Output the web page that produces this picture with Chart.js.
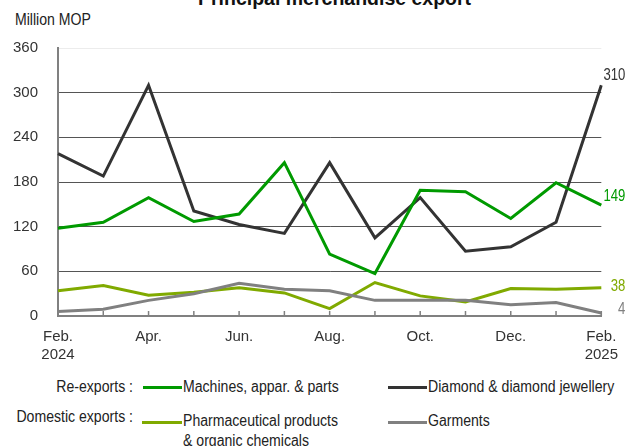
<!DOCTYPE html>
<html>
<head>
<meta charset="utf-8">
<script src="https://cdn.jsdelivr.net/npm/chart.js@4"></script>
<style>
  body { margin: 0; width: 630px; height: 446px; background: #fff; overflow: hidden; position: relative;
         font-family: "Liberation Sans", Arial, sans-serif; color: #222; }
  #title { position: absolute; top: -12px; left: 198px; white-space: nowrap;
           font: bold 19.5px "Liberation Sans", Arial, sans-serif; line-height: 20px; color: #111; }
  #unit { position: absolute; top: 11px; left: 15px; font-size: 16px; line-height: 18px; white-space: nowrap;
          transform: scaleX(0.88); transform-origin: left; }
  #wrap { position: absolute; top: 0; left: 0; width: 630px; height: 370px; }
  .leg { position: absolute; font-size: 16px; line-height: 20px; white-space: nowrap;
         transform: scaleX(0.88); transform-origin: left; }
  .grp { text-align: right; width: 133px; left: 0; transform-origin: right; }
  .sw { position: absolute; height: 3px; }
</style>
</head>
<body>
<div id="title">Principal merchandise export</div>
<div id="unit">Million MOP</div>
<div id="wrap"><canvas id="chart"></canvas></div>

<div class="leg grp" style="top:377px">Re-exports :</div>
<div class="sw" style="left:143px;width:39px;top:386px;background:#009a00"></div>
<div class="leg" style="left:183px;top:377px">Machines, appar. &amp; parts</div>
<div class="sw" style="left:388px;width:39px;top:386px;background:#333333"></div>
<div class="leg" style="left:428px;top:377px">Diamond &amp; diamond jewellery</div>

<div class="leg grp" style="top:407px">Domestic exports :</div>
<div class="sw" style="left:142px;width:40px;top:421px;background:#80aa00"></div>
<div class="leg" style="left:183px;top:411px">Pharmaceutical products<br>&amp; organic chemicals</div>
<div class="sw" style="left:388px;width:39px;top:421px;background:#808080"></div>
<div class="leg" style="left:428px;top:411px">Garments</div>

<script>
const months = ['Feb.', 'Mar.', 'Apr.', 'May', 'Jun.', 'Jul.', 'Aug.', 'Sep.', 'Oct.', 'Nov.', 'Dec.', 'Jan.', 'Feb.'];
const years = { 0: '2024', 12: '2025' };

const machines = [118, 126, 159, 127, 137, 206, 83, 57, 169, 167, 131, 179, 149];
const diamond = [218, 188, 310, 141, 123, 111, 206, 105, 159, 87, 93, 126, 310];
const pharma = [34, 41, 28, 32, 38, 31, 10, 45, 27, 19, 37, 36, 38];
const garments = [6, 9, 21, 30, 44, 36, 34, 21, 21, 21, 15, 18, 4];

const FONT = '"Liberation Sans", Arial, sans-serif';

// tick marks pointing up into the plot, and the value labels at the last point
const extras = {
  id: 'extras',
  afterDatasetsDraw(chart) {
    const { ctx, chartArea, scales: { x, y } } = chart;
    ctx.save();
    ctx.strokeStyle = '#808080';
    ctx.lineWidth = 1.5;
    for (let i = 1; i < months.length; i++) {
      const px = x.getPixelForTick(i);
      ctx.beginPath();
      ctx.moveTo(px, y.bottom);
      ctx.lineTo(px, y.bottom - 5);
      ctx.stroke();
    }
    ctx.font = '16px ' + FONT;
    ctx.textAlign = 'right';
    ctx.textBaseline = 'middle';
    chart.data.datasets.forEach((ds, i) => {
      const meta = chart.getDatasetMeta(i);
      const pt = meta.data[meta.data.length - 1];
      ctx.save();
      ctx.translate(chartArea.right + 24, pt.y + ds.endDy);
      ctx.scale(0.82, 1);
      ctx.fillStyle = ds.endColor;
      ctx.fillText(String(ds.data[ds.data.length - 1]), 0, 0);
      ctx.restore();
    });
    ctx.restore();
  }
};

function line(label, data, color, endColor, endDy) {
  return { label, data, borderColor: color, backgroundColor: color, borderWidth: 3,
           pointRadius: 0, tension: 0, endColor, endDy };
}

new Chart(document.getElementById('chart'), {
  type: 'line',
  data: {
    labels: months,
    datasets: [
      line('Garments', garments, '#808080', '#808080', -3),
      line('Pharmaceutical products & organic chemicals', pharma, '#80aa00', '#80aa00', -1),
      line('Machines, appar. & parts', machines, '#009a00', '#009a00', -8),
      line('Diamond & diamond jewellery', diamond, '#333333', '#333333', -10),
    ]
  },
  options: {
    responsive: true, maintainAspectRatio: false, animation: false,
    layout: { padding: { left: 8, right: 28, top: 48, bottom: 0 } },
    plugins: { legend: { display: false }, tooltip: { enabled: false } },
    scales: {
      x: {
        grid: { drawOnChartArea: false, drawTicks: false },
        border: { color: '#808080', width: 2 },
        afterFit: s => { s.height = 54; },
        ticks: {
          autoSkip: false, maxRotation: 0, padding: 12,
          color: '#333', font: { family: FONT, size: 15 },
          callback: (v, i) => i % 2 ? '' : (years[i] ? [months[i], years[i]] : months[i]),
        },
      },
      y: {
        min: 0, max: 360,
        grid: {
          drawTicks: false, lineWidth: 1,
          color: c => c.tick.value === 360 ? '#ececec' : (c.tick.value === 0 ? 'rgba(0,0,0,0)' : '#555'),
        },
        border: { color: '#808080', width: 2 },
        afterFit: s => { s.width = 50; },
        ticks: { stepSize: 60, padding: 20, color: '#333', font: { family: FONT, size: 15 } },
      },
    },
  },
  plugins: [extras],
});
</script>
</body>
</html>
